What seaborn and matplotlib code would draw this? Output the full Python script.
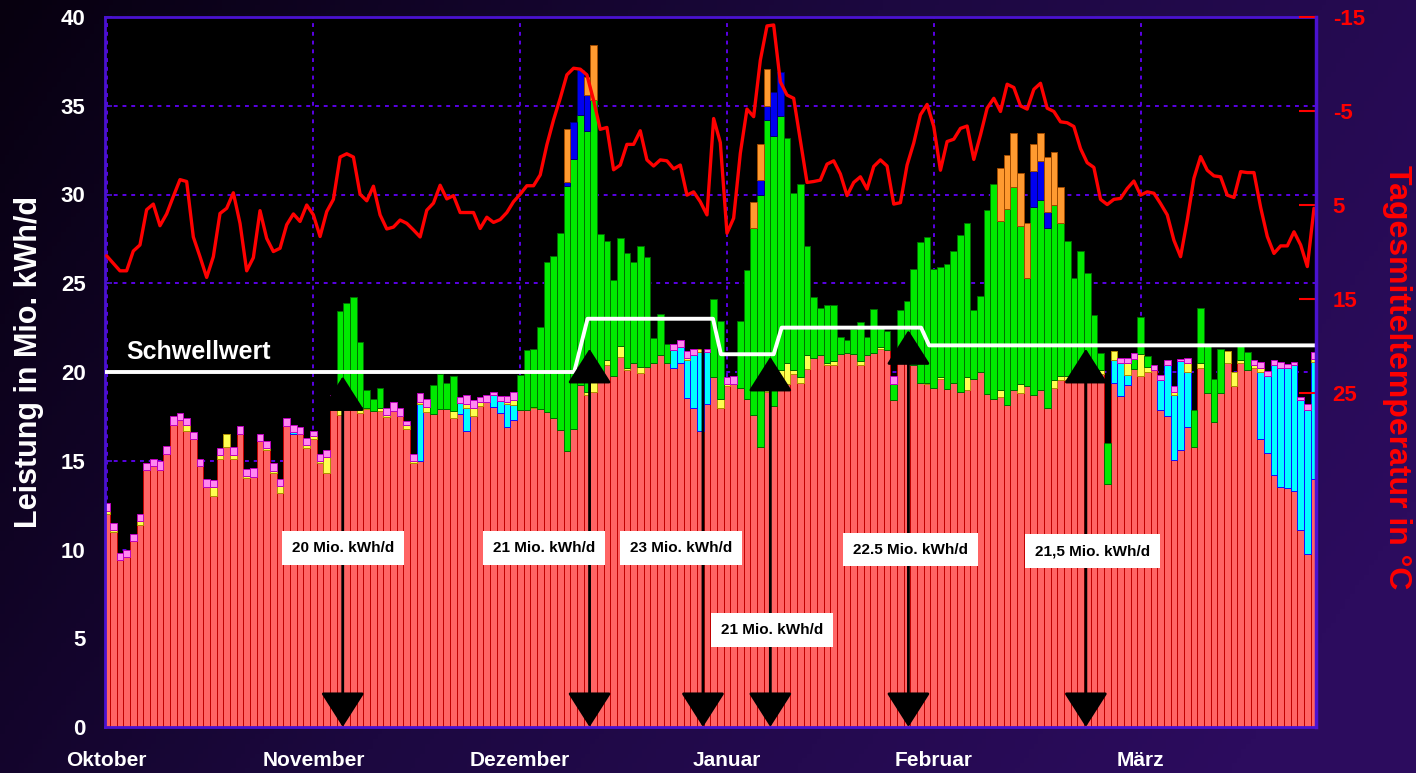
"""Tagesleistung (gestapelt) mit Schwellwert und Tagesmitteltemperatur."""
import matplotlib

matplotlib.use("Agg")
import matplotlib.pyplot as plt
import numpy as np
import seaborn as sns
from matplotlib.colors import LinearSegmentedColormap

n_tage = 182
monate = ["Oktober", "November", "Dezember", "Januar", "Februar", "März"]
monat_tag = [0, 31, 62, 93, 124, 155]

# Grundlast (rot), Mio. kWh/d je Tag
rot = [12.0, 11.0, 9.4, 9.6, 10.5, 11.4, 14.5, 14.7, 14.5, 15.4,
       17.0, 17.3, 16.7, 16.2, 14.7, 13.5, 13.0, 15.1, 15.8, 15.1,
       16.5, 14.05, 14.1, 16.1, 15.6, 14.3, 13.2, 16.95, 16.5, 16.5,
       15.7, 16.2, 14.9, 14.3, 18.1, 17.6, 18.0, 18.0, 17.7, 17.9,
       17.8, 17.8, 17.45, 17.8, 17.5, 16.8, 14.9, 15.0, 17.75, 17.65,
       17.9, 17.9, 17.4, 17.65, 16.7, 17.5, 18.1, 18.3, 18.05, 17.7,
       16.9, 17.3, 17.85, 17.85, 17.95, 17.9, 17.75, 17.4, 16.75, 15.55,
       16.8, 19.25, 18.7, 18.9, 19.6, 20.4, 19.8, 20.85, 20.1, 20.5,
       19.95, 20.3, 20.5, 20.95, 20.5, 20.25, 20.5, 18.55, 17.95, 16.65,
       18.2, 19.7, 18.0, 19.2, 19.3, 19.1, 18.5, 17.6, 15.8, 18.9,
       18.1, 19.3, 19.3, 19.9, 19.4, 20.15, 20.8, 20.95, 20.4, 20.4,
       21.0, 21.05, 21.0, 20.4, 20.95, 21.05, 21.3, 21.25, 18.4, 20.9,
       20.9, 20.4, 19.4, 19.3, 19.1, 19.6, 19.05, 19.4, 18.9, 19.0,
       19.6, 20.0, 18.75, 18.5, 18.6, 18.15, 19.0, 18.8, 19.2, 18.7,
       19.0, 17.95, 19.1, 19.55, 19.55, 19.7, 19.6, 19.6, 19.8, 19.9,
       13.7, 19.4, 18.65, 19.25, 20.15, 19.8, 20.0, 20.1, 17.85, 17.5,
       15.05, 15.6, 16.9, 15.8, 20.2, 18.8, 17.2, 18.8, 20.5, 19.2,
       20.5, 20.1, 20.2, 16.2, 15.45, 14.2, 13.5, 13.45, 13.3, 11.1,
       9.75, 13.95]

# weitere Anteile, nur Tage mit Wert (Tag-Index: Wert)
cyan = {28: 0.1, 47: 3.2, 53: 0.6, 54: 1.3, 58: 0.65, 59: 0.65, 60: 1.3, 61: 0.85,
        85: 1.0, 86: 0.9, 87: 2.1, 88: 3.0, 89: 4.5, 90: 2.9, 151: 1.25, 152: 1.85,
        153: 0.6, 158: 1.7, 159: 2.9, 160: 3.65, 161: 5.0, 162: 3.1, 173: 3.8,
        174: 4.3, 175: 6.2, 176: 6.7, 177: 6.8, 178: 7.1, 179: 7.3, 180: 8.1, 181: 6.6}
gelb = {0: 0.15, 1: 0.1, 5: 0.2, 12: 0.3, 16: 0.5, 17: 0.2, 18: 0.7, 19: 0.2, 21: 0.1,
        24: 0.1, 25: 0.1, 26: 0.4, 30: 0.2, 31: 0.2, 32: 0.1, 33: 0.9, 35: 0.5, 37: 0.2,
        38: 0.35, 39: 0.1, 41: 0.15, 42: 0.1, 45: 0.2, 46: 0.1, 47: 0.1, 48: 0.3, 52: 0.4,
        54: 0.2, 55: 0.5, 56: 0.2, 60: 0.1, 61: 0.3, 64: 0.1, 72: 0.2, 73: 1.4, 74: 0.1,
        75: 0.3, 77: 0.6, 78: 0.1, 80: 0.35, 87: 0.15, 89: 0.15, 92: 0.5, 93: 0.1, 99: 0.3,
        101: 0.8, 102: 1.2, 103: 0.2, 104: 0.3, 105: 0.8, 108: 0.1, 109: 0.2, 113: 0.2,
        116: 0.1, 119: 0.3, 123: 0.1, 125: 0.1, 129: 0.7, 134: 0.4, 137: 0.55, 142: 0.45,
        143: 0.2, 144: 0.25, 147: 0.2, 148: 0.2, 149: 0.2, 151: 0.55, 153: 0.65, 155: 1.2,
        156: 0.3, 160: 0.2, 162: 0.5, 164: 0.3, 168: 0.7, 169: 0.8, 170: 0.2, 172: 0.2,
        173: 0.25, 181: 0.2}
gruen = {34: 0.4, 35: 5.35, 36: 5.9, 37: 6.0, 38: 3.65, 39: 1.0, 40: 0.7, 41: 1.15,
         49: 1.6, 50: 2.0, 51: 1.5, 52: 2.0, 62: 2.0, 63: 3.4, 64: 3.25, 65: 4.65,
         66: 8.45, 67: 9.15, 68: 11.1, 69: 14.95, 70: 15.2, 71: 15.25, 72: 14.7, 73: 15.0,
         74: 8.1, 75: 6.7, 76: 5.4, 77: 6.1, 78: 6.5, 79: 5.7, 80: 6.8, 81: 6.2, 82: 1.4,
         83: 2.3, 84: 1.05, 91: 4.4, 92: 4.4, 95: 3.8, 96: 7.25, 97: 10.5, 98: 14.2,
         99: 15.0, 100: 15.2, 101: 14.3, 102: 12.7, 103: 10.0, 104: 10.9, 105: 6.15,
         106: 3.4, 107: 2.65, 108: 3.3, 109: 3.2, 110: 1.0, 111: 0.75, 112: 1.4, 113: 2.2,
         114: 1.05, 115: 2.5, 116: 1.2, 117: 1.05, 118: 0.9, 119: 2.3, 120: 3.1, 121: 5.4,
         122: 7.9, 123: 8.2, 124: 6.7, 125: 6.2, 126: 7.05, 127: 7.4, 128: 8.8, 129: 8.7,
         130: 3.9, 131: 4.3, 132: 10.4, 133: 12.1, 134: 9.5, 135: 11.05, 136: 11.4,
         137: 8.85, 138: 6.1, 139: 10.6, 140: 10.7, 141: 10.15, 142: 9.85, 143: 8.65,
         144: 7.6, 145: 5.6, 146: 7.2, 147: 5.75, 148: 3.2, 149: 0.95, 150: 2.3, 154: 0.6,
         155: 2.1, 156: 0.6, 163: 2.05, 164: 3.1, 165: 2.7, 166: 2.4, 167: 2.5, 170: 0.8,
         171: 1.0}
blau = {69: 0.2, 70: 2.1, 71: 2.5, 72: 2.0, 98: 0.8, 99: 0.8, 100: 2.5, 101: 2.5,
        139: 2.0, 140: 2.2, 141: 0.9}
orange = {69: 3.0, 72: 1.0, 73: 3.1, 97: 1.5, 98: 2.05, 99: 2.05, 134: 3.0, 135: 3.0,
          136: 3.05, 137: 3.0, 138: 3.1, 139: 1.55, 140: 1.55, 141: 3.1, 142: 3.0, 143: 2.0}
rosa = {0: 0.45, 1: 0.4, 2: 0.4, 3: 0.4, 4: 0.4, 5: 0.4, 6: 0.4, 7: 0.4, 8: 0.5, 9: 0.45,
        10: 0.5, 11: 0.4, 12: 0.4, 13: 0.4, 14: 0.4, 15: 0.45, 16: 0.4, 17: 0.4, 19: 0.5,
        20: 0.45, 21: 0.4, 22: 0.5, 23: 0.4, 24: 0.4, 25: 0.45, 26: 0.4, 27: 0.45, 28: 0.4,
        29: 0.4, 30: 0.4, 31: 0.3, 32: 0.4, 33: 0.4, 34: 0.2, 42: 0.4, 43: 0.5, 44: 0.45,
        45: 0.25, 46: 0.4, 47: 0.5, 48: 0.45, 53: 0.35, 54: 0.5, 55: 0.4, 56: 0.3, 57: 0.4,
        58: 0.2, 59: 0.3, 60: 0.35, 61: 0.45, 85: 0.35, 86: 0.4, 87: 0.4, 88: 0.35,
        90: 0.2, 93: 0.4, 94: 0.45, 118: 0.5, 152: 0.3, 153: 0.3, 154: 0.3, 157: 0.3,
        158: 0.3, 159: 0.3, 160: 0.3, 161: 0.15, 162: 0.3, 172: 0.25, 173: 0.3, 174: 0.3,
        175: 0.3, 176: 0.35, 177: 0.2, 178: 0.15, 179: 0.2, 180: 0.35, 181: 0.35}

# Tagesmitteltemperatur in °C
temperatur = [10.4, 11.2, 12.0, 12.0, 9.9, 9.25, 5.5, 4.9, 7.2, 5.95,
              4.1, 2.3, 2.5, 8.4, 10.5, 12.7, 10.5, 5.9, 5.35, 3.7,
              6.95, 12.0, 10.6, 5.6, 8.55, 9.95, 9.6, 7.1, 5.95, 6.75,
              5.0, 6.05, 8.35, 5.7, 4.4, -0.1, -0.45, -0.1, 3.85, 4.55,
              3.0, 6.05, 7.55, 7.35, 6.6, 6.95, 7.65, 8.4, 5.55, 4.8,
              2.9, 4.35, 4.0, 5.8, 5.8, 5.8, 7.5, 6.3, 6.85, 6.55,
              5.8, 4.65, 3.85, 2.95, 2.95, 1.8, -1.4, -4.05, -6.35, -8.85,
              -9.55, -9.45, -8.85, -6.15, -3.05, -3.25, 1.25, 0.75, -1.45, -1.45,
              -2.9, 0.2, 0.85, 0.2, 0.3, 1.15, 0.75, 3.95, 3.6, 4.65,
              6.05, -4.2, -1.65, 8.0, 6.4, -0.5, -5.2, -4.4, -10.4, -14.05,
              -14.15, -8.1, -6.7, -6.35, -1.9, 2.6, 2.5, 2.35, 0.65, 0.3,
              1.7, 4.0, 2.6, 2.0, 3.3, 0.9, 0.2, 0.85, 4.9, 4.75,
              0.75, -1.6, -4.6, -5.7, -3.35, 1.3, -1.75, -2.0, -3.15, -3.4,
              0.15, -2.45, -5.3, -6.35, -4.95, -7.85, -7.5, -5.55, -5.2, -7.3,
              -7.95, -5.3, -4.95, -3.85, -3.75, -3.35, -1.0, 0.5, 1.0, 4.4,
              4.95, 4.4, 4.3, 3.25, 2.45, 3.95, 3.6, 3.75, 4.85, 6.05,
              8.75, 10.5, 6.6, 2.15, -0.15, 1.3, 1.9, 2.0, 3.95, 4.2,
              1.45, 1.55, 1.55, 5.25, 8.35, 10.15, 9.35, 9.35, 7.85, 9.25,
              11.55, 5.35]

# Schwellwert-Verlauf
schwelle_tag = [-0.24, 70.1, 72.1, 90.9, 92.1, 100.0, 101.2, 122.1, 123.3, 181.3]
schwelle_wert = [20, 20, 23, 23, 21, 21, 22.5, 22.5, 21.5, 21.5]

# Markierungen
pfeil_tag = [35.4, 72.4, 89.4, 99.5, 120.2, 146.8]
pfeil_spitze = [19.75, 21.3, 21.3, 20.85, 22.35, 21.3]
pfeil_kopf_oben = [True, True, False, True, True, True]
box_text = ["20 Mio. kWh/d", "21 Mio. kWh/d", "23 Mio. kWh/d", "21 Mio. kWh/d",
            "22.5 Mio. kWh/d", "21,5 Mio. kWh/d"]
box_tag = [35.4, 65.6, 86.1, 99.8, 120.5, 147.8]
box_wert = [10.1, 10.1, 10.1, 5.45, 10.0, 9.9]


def voll(d):
    arr = np.zeros(n_tage)
    for k, v in d.items():
        arr[k] = v
    return arr


sns.set_theme(style="dark")
plt.rcParams["font.family"] = ["Liberation Sans", "DejaVu Sans"]
plt.rcParams["font.weight"] = "bold"
plt.rcParams["axes.unicode_minus"] = False

lila = "#4a12d0"
fig = plt.figure(figsize=(14.16, 7.73), dpi=100)

# Hintergrund-Verlauf
bg = fig.add_axes([0, 0, 1, 1], zorder=-10)
xx, yy = np.meshgrid(np.linspace(0, 1, 300), np.linspace(0, 1, 160))
verlauf = np.clip(0.8 * xx + 0.3 * yy, 0, 1)
cmap_bg = LinearSegmentedColormap.from_list("bg", ["#07000f", "#1c0840", "#2c0c5e"])
bg.imshow(verlauf, cmap=cmap_bg, aspect="auto", extent=[0, 1, 0, 1], origin="upper")
bg.axis("off")

ax = fig.add_axes([105 / 1416, 46 / 773, 1211 / 1416, 710 / 773])
ax.set_facecolor("black")

tage = np.arange(n_tage)
schichten = [
    (np.asarray(rot), "#ff6464", "#c00000"),
    (voll(cyan), "#00ffff", "#1010ff"),
    (voll(gelb), "#ffff50", "#b09000"),
    (voll(gruen), "#00ea00", "#007000"),
    (voll(blau), "#0000f0", "#000070"),
    (voll(orange), "#ff9a30", "#a04a00"),
    (voll(rosa), "#ff88f0", "#c000c0"),
]
unten = np.zeros(n_tage)
for werte, farbe, rand in schichten:
    m = werte > 0
    ax.bar(tage[m], werte[m], bottom=unten[m], width=1.0, color=farbe,
           edgecolor=rand, linewidth=0.7, zorder=2)
    unten = unten + werte

sns.lineplot(x=schwelle_tag, y=schwelle_wert, ax=ax, color="white", lw=2.8, zorder=5)
ax.text(3.0, 20.75, "Schwellwert", color="white", fontsize=18, fontweight="bold",
        va="baseline", zorder=6)

for x, top, oben in zip(pfeil_tag, pfeil_spitze, pfeil_kopf_oben):
    stil = "<|-|>" if oben else "<|-"
    ax.annotate("", xy=(x, top), xytext=(x, 0), annotation_clip=False,
                arrowprops=dict(arrowstyle=stil + ",head_length=1.1,head_width=0.7",
                                mutation_scale=20, color="black", lw=2,
                                shrinkA=0, shrinkB=0), zorder=6)
for txt, x, y in zip(box_text, box_tag, box_wert):
    ax.text(x, y, txt, ha="center", va="center", fontsize=11, fontweight="bold",
            color="black", zorder=7,
            bbox=dict(boxstyle="square,pad=0.65", fc="white", ec="none"))

ax.set_xlim(-0.24, 181.3)
ax.set_ylim(0, 40)
ax.set_yticks(range(0, 41, 5))
ax.set_xticks(monat_tag)
ax.set_xticklabels(monate)
ax.set_xlabel("")
ax.set_ylabel("")
ax.grid(True, color="#5a00e6", linestyle=(0, (2, 2.5)), linewidth=1.4)
ax.set_axisbelow(True)
ax.tick_params(axis="x", length=0, pad=17, labelsize=15, labelcolor="white")
ax.tick_params(axis="y", direction="in", length=5, color=lila, pad=14,
               labelsize=16, labelcolor="white")
for s in ax.spines.values():
    s.set_color(lila)
    s.set_linewidth(2)

ax2 = ax.twinx()
sns.lineplot(x=tage, y=temperatur, ax=ax2, color="#ff0000", lw=2.4)
ax2.set_ylim(60.53, -15)
ax2.set_yticks([-15, -5, 5, 15, 25])
ax2.set_ylabel("")
ax2.grid(False)
ax2.tick_params(axis="y", direction="in", length=12, width=1.5, color="#ff0000",
                labelcolor="#ff0000", labelsize=16, pad=12)
for name, s in ax2.spines.items():
    s.set_visible(name == "right")
    s.set_color(lila)
    s.set_linewidth(2.5)

fig.text(29 / 1416, 1 - 362 / 773, "Leistung in Mio. kWh/d", rotation=90,
         ha="center", va="center", color="white", fontsize=22, fontweight="bold")
fig.text(1397 / 1416, 1 - 377 / 773, "Tagesmitteltemperatur in °C", rotation=270,
         ha="center", va="center", color="#ff0000", fontsize=23, fontweight="bold")

fig.savefig("out.png", dpi=100, facecolor=fig.get_facecolor())
plt.close(fig)
